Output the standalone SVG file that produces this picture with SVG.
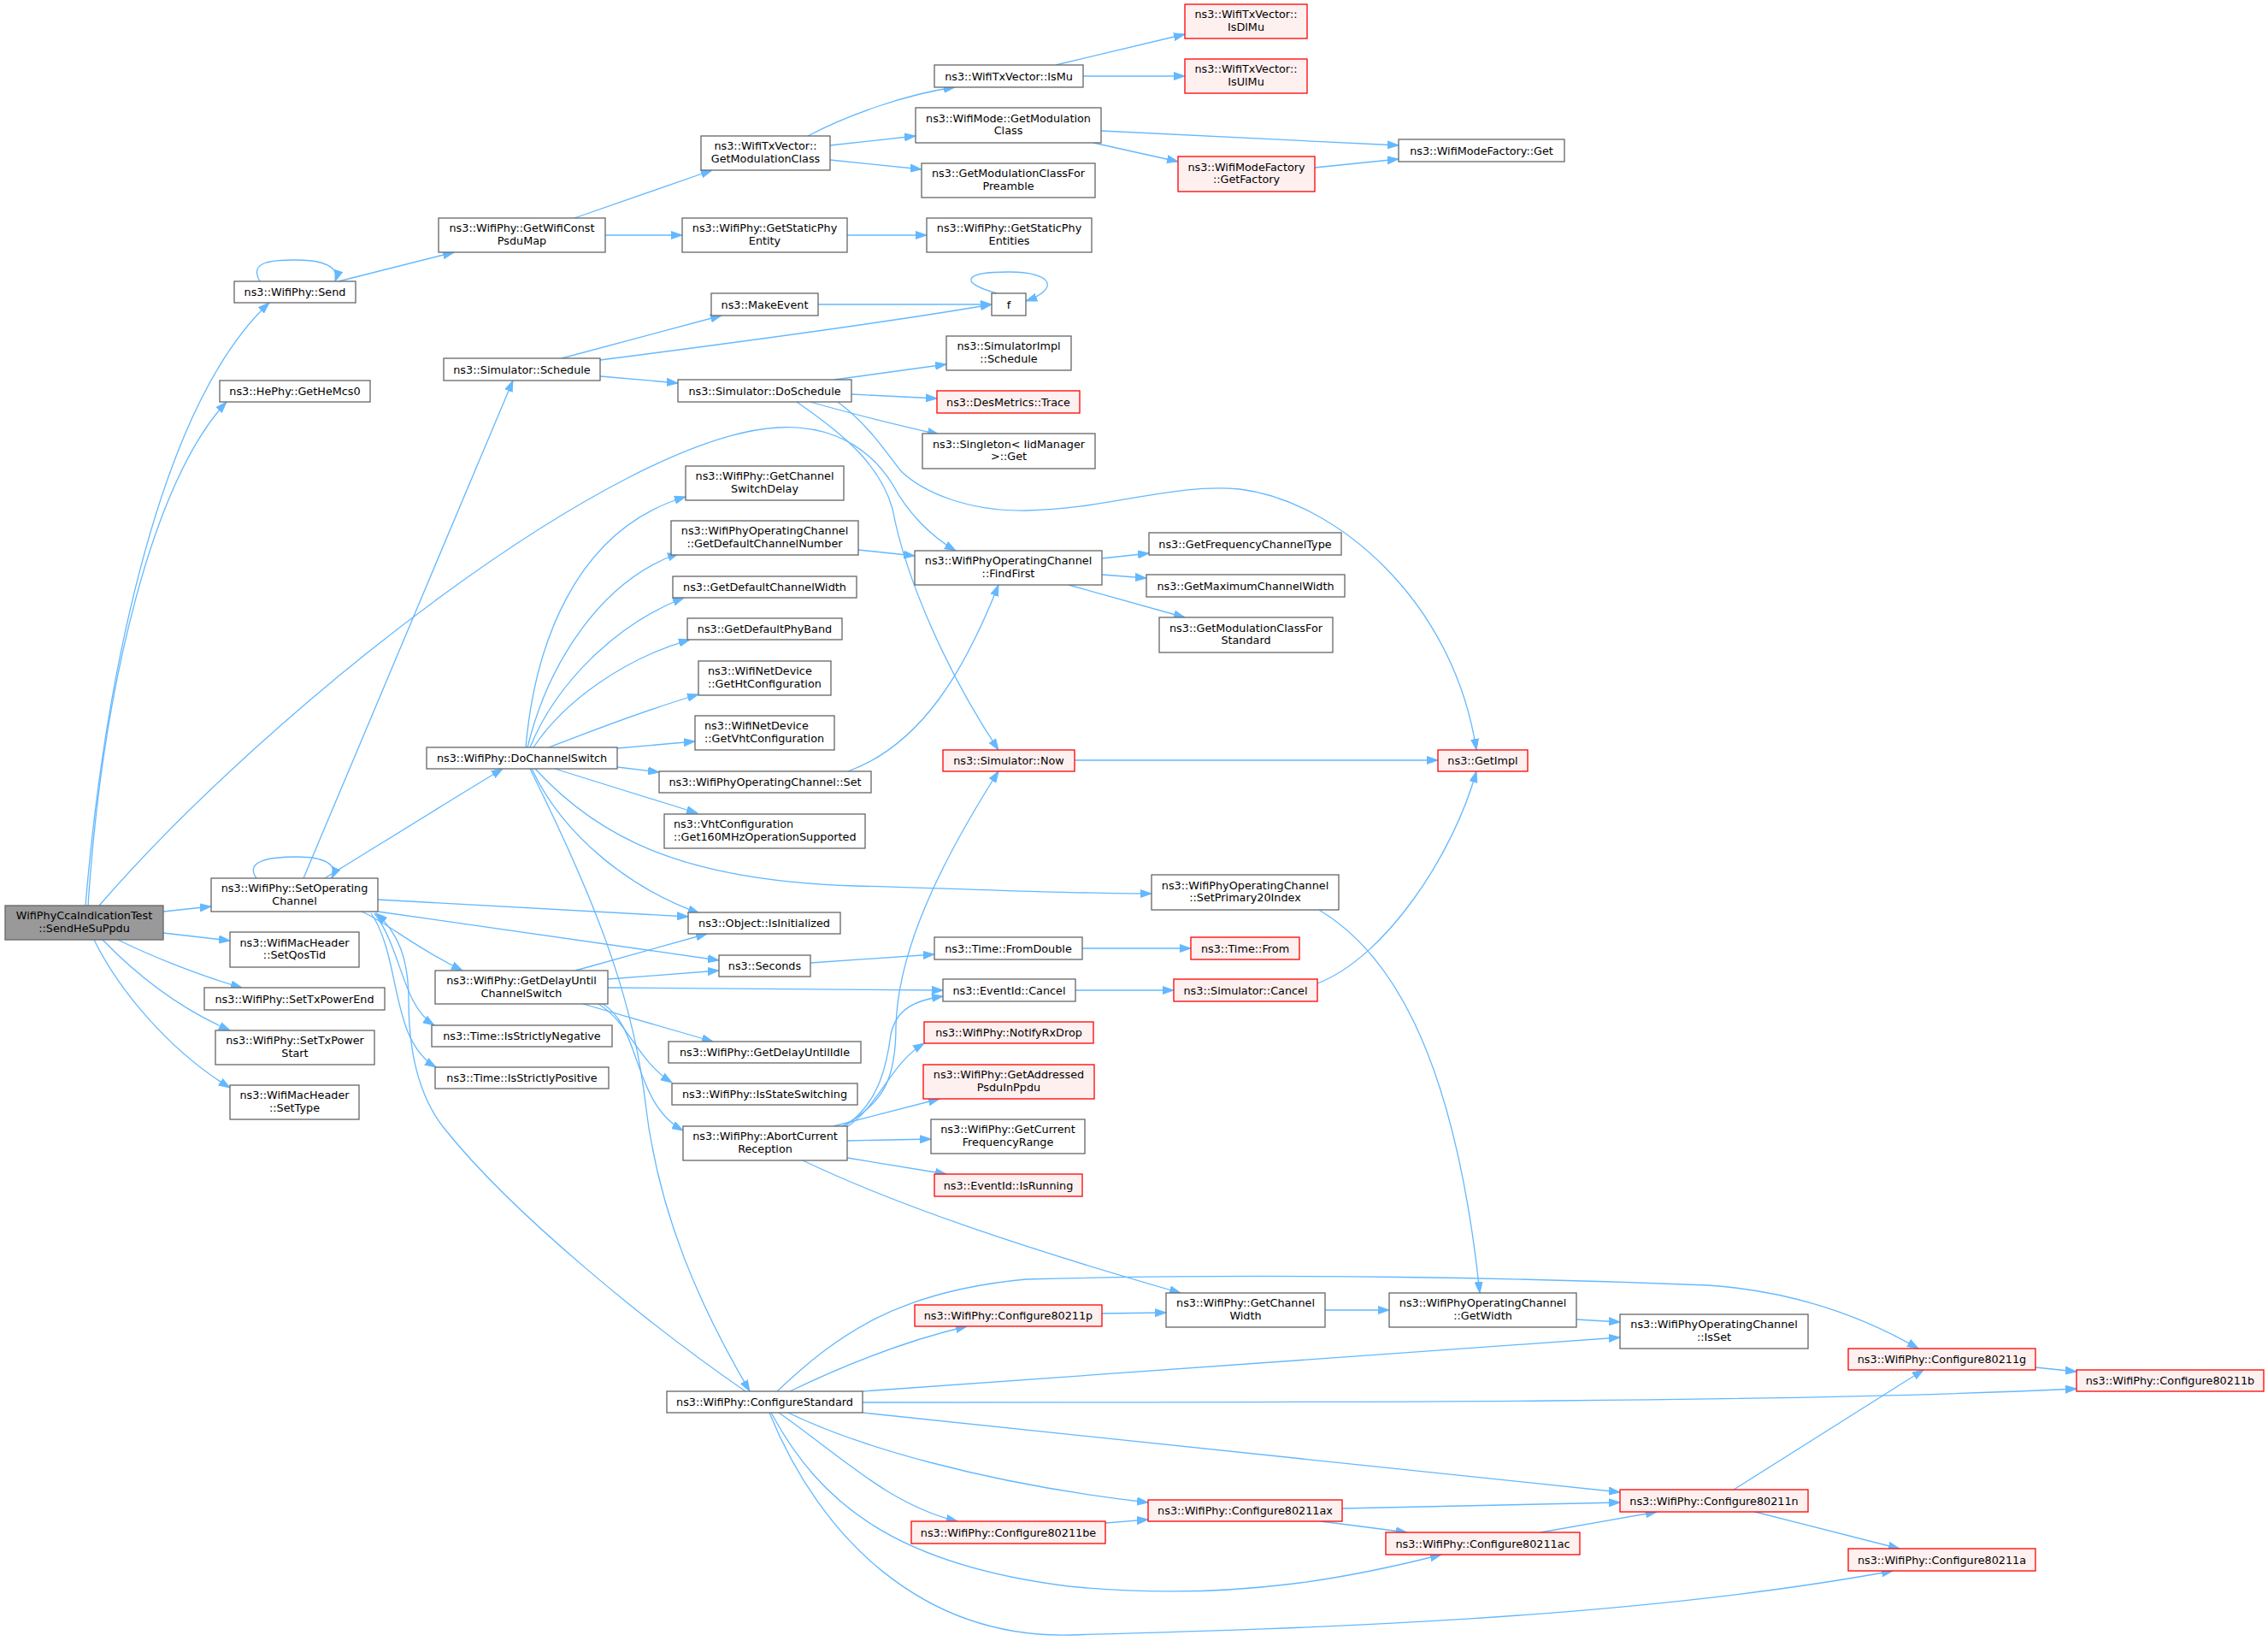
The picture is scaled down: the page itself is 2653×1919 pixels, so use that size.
<svg xmlns="http://www.w3.org/2000/svg" width="2653" height="1919" viewBox="0 0 2653 1919">
<style>
rect{fill:#ffffff;stroke:#666666;stroke-width:1.3}
.r rect{fill:#fff0f0;stroke:#ff0000}
.g rect{fill:#999999;stroke:#666666}
text{font-family:"DejaVu Sans","Liberation Sans",sans-serif;font-size:12.8px;text-anchor:middle;fill:#000000}
text.l{text-anchor:start}
#edges path{fill:none;stroke:#63b8ff;stroke-width:1.3;marker-end:url(#a)}
</style>
<defs>
<marker id="a" markerUnits="userSpaceOnUse" markerWidth="14" markerHeight="10" refX="13" refY="5" orient="auto"><path d="M0,0.5 L13,5 L0,9.5 z" fill="#63b8ff" stroke="#63b8ff" stroke-width="1"/></marker>
</defs>
<rect x="0" y="0" width="2653" height="1919" style="fill:#ffffff;stroke:none"/>
<g id="edges">
<path d="M100,1059 C 120,820 180,480 315,354"/>
<path d="M103,1059 C 120,800 180,560 265,470"/>
<path d="M116,1059 C 315,829 720,510 910,500 C 985,496 1025,535 1045,568 C 1062,600 1090,628 1118,644"/>
<path d="M191,1066 L247,1060"/>
<path d="M191,1091 L269,1100"/>
<path d="M138,1099 C 170,1115 230,1140 283,1155"/>
<path d="M120,1099 C 150,1130 200,1175 269,1205"/>
<path d="M110,1099 C 140,1160 200,1230 269,1272"/>
<path d="M304,329 C 290,305 320,304 347,304 C 378,304 398,312 392,329"/>
<path d="M396,329 L531,295"/>
<path d="M672,255 L833,199"/>
<path d="M708,275 L798,275"/>
<path d="M945,159 C 990,135 1060,110 1117,102"/>
<path d="M971,170 L1071,159"/>
<path d="M971,187 L1078,198"/>
<path d="M991,275 L1084,275"/>
<path d="M1235,76 L1386,40"/>
<path d="M1267,89 L1386,89"/>
<path d="M1288,153 L1636,170"/>
<path d="M1279,167 L1378,189"/>
<path d="M1538,196 L1636,186"/>
<path d="M657,419 L844,369"/>
<path d="M702,421 C 850,402 1050,375 1160,356"/>
<path d="M702,440 L793,448"/>
<path d="M957,356 L1160,356"/>
<path d="M1166,343 C 1120,330 1128,318 1180,318 C 1232,318 1240,338 1200,352"/>
<path d="M976,444 L1107,426"/>
<path d="M996,461 L1096,466"/>
<path d="M948,470 C 1000,485 1050,497 1098,508"/>
<path d="M932,470 C 990,510 1030,545 1044,595 C 1060,680 1110,790 1168,877"/>
<path d="M980,470 C 1020,500 1040,535 1055,552 C 1080,575 1130,598 1200,597 C 1300,595 1370,565 1450,572 C 1560,585 1700,700 1727,877"/>
<path d="M300,1027 C 285,1006 318,1002 347,1002 C 378,1002 396,1010 388,1027"/>
<path d="M355,1027 L600,445"/>
<path d="M380,1027 C 440,990 520,940 588,899"/>
<path d="M442,1052 L805,1072"/>
<path d="M442,1066 L841,1123"/>
<path d="M423,1066 C 455,1080 480,1105 541,1135"/>
<path d="M438,1068 C 470,1110 470,1175 508,1199"/>
<path d="M434,1068 C 470,1120 455,1215 510,1248"/>
<path d="M872,1627 C 760,1550 600,1420 520,1320 C 480,1270 478,1200 478,1170 C 478,1120 465,1090 440,1068"/>
<path d="M615,874 C 625,760 670,620 802,581"/>
<path d="M617,874 C 640,780 700,680 794,647"/>
<path d="M620,874 C 650,800 720,730 800,699"/>
<path d="M624,874 C 660,820 730,770 807,748"/>
<path d="M642,874 C 680,860 740,835 817,812"/>
<path d="M722,875 L813,867"/>
<path d="M722,897 L771,903"/>
<path d="M649,899 L816,951"/>
<path d="M626,899 C 700,980 800,1030 1000,1036 C 1150,1040 1250,1045 1347,1045"/>
<path d="M622,899 C 660,980 740,1040 818,1068"/>
<path d="M620,899 C 690,1040 740,1160 755,1290 C 770,1420 820,1530 877,1627"/>
<path d="M673,1135 L827,1092"/>
<path d="M711,1145 L841,1135"/>
<path d="M711,1155 L1103,1158"/>
<path d="M682,1174 L834,1218"/>
<path d="M700,1174 C 735,1195 745,1240 786,1266"/>
<path d="M705,1174 C 750,1200 740,1290 799,1322"/>
<path d="M1004,643 L1070,650"/>
<path d="M992,902 C 1080,870 1130,780 1168,684"/>
<path d="M1289,653 L1344,647"/>
<path d="M1289,672 L1341,676"/>
<path d="M1250,684 L1386,722"/>
<path d="M1257,889 L1682,889"/>
<path d="M1541,1150 C 1620,1120 1700,1000 1727,902"/>
<path d="M1266,1109 L1393,1109"/>
<path d="M1258,1158 L1373,1158"/>
<path d="M948,1126 L1093,1116"/>
<path d="M1543,1064 C 1620,1110 1700,1220 1731,1512"/>
<path d="M975,1317 L1099,1285"/>
<path d="M991,1334 L1089,1332"/>
<path d="M991,1354 L1107,1373"/>
<path d="M939,1357 C 1050,1410 1200,1460 1381,1512"/>
<path d="M985,1317 C 1035,1290 1048,1260 1048,1200 C 1050,1130 1080,1040 1168,902"/>
<path d="M987,1318 C 1030,1290 1038,1240 1042,1210 C 1048,1180 1070,1170 1103,1165"/>
<path d="M989,1319 C 1030,1292 1040,1245 1081,1220"/>
<path d="M1550,1532 L1625,1532"/>
<path d="M1844,1543 L1895,1546"/>
<path d="M1289,1536 L1364,1535"/>
<path d="M924,1627 C 980,1600 1050,1570 1131,1551"/>
<path d="M909,1627 C 980,1560 1050,1510 1200,1496 C 1500,1488 1800,1495 1998,1503 C 2100,1510 2180,1540 2244,1577"/>
<path d="M1009,1627 L1895,1564"/>
<path d="M1009,1640 C 1600,1640 2100,1640 2429,1624"/>
<path d="M1009,1652 L1895,1745"/>
<path d="M922,1652 C 1000,1690 1150,1735 1343,1757"/>
<path d="M911,1652 C 980,1700 1040,1760 1120,1779"/>
<path d="M902,1652 C 960,1760 1050,1830 1250,1855 C 1450,1875 1600,1840 1686,1818"/>
<path d="M900,1652 C 960,1800 1080,1915 1250,1912 C 1500,1905 1900,1895 2214,1837"/>
<path d="M1293,1781 L1343,1777"/>
<path d="M1570,1764 L1895,1757"/>
<path d="M1545,1779 L1646,1792"/>
<path d="M1802,1792 L1938,1768"/>
<path d="M2028,1742 L2250,1602"/>
<path d="M2053,1768 L2222,1811"/>
<path d="M2381,1599 L2429,1604"/>
</g>
<g id="n1" class="g"><rect x="6" y="1059" width="185" height="40"/><text x="98.5" y="1075">WifiPhyCcaIndicationTest</text><text x="98.5" y="1089.5">::SendHeSuPpdu</text></g>
<g id="n2"><rect x="274" y="329" width="142" height="25"/><text x="345" y="346">ns3::WifiPhy::Send</text></g>
<g id="n3"><rect x="257" y="445" width="176" height="25"/><text x="345" y="462">ns3::HePhy::GetHeMcs0</text></g>
<g id="n4"><rect x="513" y="255" width="195" height="40"/><text x="610.5" y="271">ns3::WifiPhy::GetWifiConst</text><text x="610.5" y="285.5">PsduMap</text></g>
<g id="n5"><rect x="519" y="419" width="183" height="26"/><text x="610.5" y="436.5">ns3::Simulator::Schedule</text></g>
<g id="n6"><rect x="820" y="159" width="151" height="40"/><text x="895.5" y="175">ns3::WifiTxVector::</text><text x="895.5" y="189.5">GetModulationClass</text></g>
<g id="n7"><rect x="798" y="255" width="193" height="40"/><text x="894.5" y="271">ns3::WifiPhy::GetStaticPhy</text><text x="894.5" y="285.5">Entity</text></g>
<g id="n8"><rect x="832" y="343" width="125" height="26"/><text x="894.5" y="360.5">ns3::MakeEvent</text></g>
<g id="n9"><rect x="793" y="444" width="203" height="26"/><text x="894.5" y="461.5">ns3::Simulator::DoSchedule</text></g>
<g id="n10"><rect x="802" y="545" width="185" height="40"/><text x="894.5" y="561">ns3::WifiPhy::GetChannel</text><text x="894.5" y="575.5">SwitchDelay</text></g>
<g id="n11"><rect x="785" y="609" width="219" height="40"/><text x="894.5" y="625">ns3::WifiPhyOperatingChannel</text><text x="894.5" y="639.5">::GetDefaultChannelNumber</text></g>
<g id="n12"><rect x="1093" y="76" width="174" height="26"/><text x="1180" y="93.5">ns3::WifiTxVector::IsMu</text></g>
<g id="n13" class="r"><rect x="1386" y="5" width="143" height="40"/><text x="1457.5" y="21">ns3::WifiTxVector::</text><text x="1457.5" y="35.5">IsDlMu</text></g>
<g id="n14" class="r"><rect x="1386" y="69" width="143" height="40"/><text x="1457.5" y="85">ns3::WifiTxVector::</text><text x="1457.5" y="99.5">IsUlMu</text></g>
<g id="n15"><rect x="1071" y="126" width="217" height="41"/><text x="1179.5" y="142.5">ns3::WifiMode::GetModulation</text><text x="1179.5" y="157">Class</text></g>
<g id="n16"><rect x="1078" y="191" width="203" height="40"/><text x="1179.5" y="207">ns3::GetModulationClassFor</text><text x="1179.5" y="221.5">Preamble</text></g>
<g id="n17"><rect x="1084" y="255" width="193" height="40"/><text x="1180.5" y="271">ns3::WifiPhy::GetStaticPhy</text><text x="1180.5" y="285.5">Entities</text></g>
<g id="n18"><rect x="1160" y="343" width="40" height="26"/><text x="1180" y="360.5">f</text></g>
<g id="n19"><rect x="1107" y="393" width="146" height="40"/><text x="1180" y="409">ns3::SimulatorImpl</text><text x="1180" y="423.5">::Schedule</text></g>
<g id="n20" class="r"><rect x="1096" y="457" width="167" height="26"/><text x="1179.5" y="474.5">ns3::DesMetrics::Trace</text></g>
<g id="n21"><rect x="1079" y="507" width="202" height="41"/><text x="1180" y="523.5">ns3::Singleton&lt; IidManager</text><text x="1180" y="538">&gt;::Get</text></g>
<g id="n22" class="r"><rect x="1378" y="183" width="160" height="41"/><text x="1458" y="199.5">ns3::WifiModeFactory</text><text x="1458" y="214">::GetFactory</text></g>
<g id="n23"><rect x="1636" y="163" width="194" height="26"/><text x="1733" y="180.5">ns3::WifiModeFactory::Get</text></g>
<g id="n24"><rect x="1344" y="623" width="225" height="26"/><text x="1456.5" y="640.5">ns3::GetFrequencyChannelType</text></g>
<g id="n25"><rect x="1070" y="644" width="219" height="40"/><text x="1179.5" y="660">ns3::WifiPhyOperatingChannel</text><text x="1179.5" y="674.5">::FindFirst</text></g>
<g id="n26"><rect x="1341" y="672" width="232" height="26"/><text x="1457" y="689.5">ns3::GetMaximumChannelWidth</text></g>
<g id="n27"><rect x="1356" y="722" width="203" height="41"/><text x="1457.5" y="738.5">ns3::GetModulationClassFor</text><text x="1457.5" y="753">Standard</text></g>
<g id="n28"><rect x="787" y="674" width="215" height="25"/><text x="894.5" y="691">ns3::GetDefaultChannelWidth</text></g>
<g id="n29"><rect x="804" y="723" width="181" height="25"/><text x="894.5" y="740">ns3::GetDefaultPhyBand</text></g>
<g id="n30"><rect x="817" y="773" width="155" height="40"/><text class="l" x="828" y="789">ns3::WifiNetDevice</text><text class="l" x="828" y="803.5">::GetHtConfiguration</text></g>
<g id="n31"><rect x="813" y="837" width="163" height="40"/><text class="l" x="824" y="853">ns3::WifiNetDevice</text><text class="l" x="824" y="867.5">::GetVhtConfiguration</text></g>
<g id="n32"><rect x="499" y="874" width="223" height="25"/><text x="610.5" y="891">ns3::WifiPhy::DoChannelSwitch</text></g>
<g id="n33"><rect x="771" y="902" width="248" height="25"/><text x="895" y="919">ns3::WifiPhyOperatingChannel::Set</text></g>
<g id="n34"><rect x="777" y="952" width="235" height="40"/><text class="l" x="788" y="968">ns3::VhtConfiguration</text><text class="l" x="788" y="982.5">::Get160MHzOperationSupported</text></g>
<g id="n35"><rect x="805" y="1067" width="178" height="25"/><text x="894" y="1084">ns3::Object::IsInitialized</text></g>
<g id="n36"><rect x="841" y="1117" width="107" height="25"/><text x="894.5" y="1134">ns3::Seconds</text></g>
<g id="n37"><rect x="782" y="1218" width="225" height="25"/><text x="894.5" y="1235">ns3::WifiPhy::GetDelayUntilIdle</text></g>
<g id="n38"><rect x="509" y="1135" width="202" height="39"/><text x="610" y="1151">ns3::WifiPhy::GetDelayUntil</text><text x="610" y="1165.5">ChannelSwitch</text></g>
<g id="n39"><rect x="247" y="1027" width="195" height="39"/><text x="344.5" y="1043">ns3::WifiPhy::SetOperating</text><text x="344.5" y="1057.5">Channel</text></g>
<g id="n40"><rect x="269" y="1090" width="151" height="41"/><text x="344.5" y="1106.5">ns3::WifiMacHeader</text><text x="344.5" y="1121">::SetQosTid</text></g>
<g id="n41"><rect x="239" y="1155" width="211" height="26"/><text x="344.5" y="1172.5">ns3::WifiPhy::SetTxPowerEnd</text></g>
<g id="n42"><rect x="252" y="1205" width="186" height="40"/><text x="345" y="1221">ns3::WifiPhy::SetTxPower</text><text x="345" y="1235.5">Start</text></g>
<g id="n43"><rect x="269" y="1269" width="151" height="40"/><text x="344.5" y="1285">ns3::WifiMacHeader</text><text x="344.5" y="1299.5">::SetType</text></g>
<g id="n44"><rect x="505" y="1199" width="211" height="25"/><text x="610.5" y="1216">ns3::Time::IsStrictlyNegative</text></g>
<g id="n45"><rect x="509" y="1248" width="203" height="25"/><text x="610.5" y="1265">ns3::Time::IsStrictlyPositive</text></g>
<g id="n46" class="r"><rect x="1103" y="877" width="154" height="25"/><text x="1180" y="894">ns3::Simulator::Now</text></g>
<g id="n47" class="r"><rect x="1682" y="877" width="105" height="25"/><text x="1734.5" y="894">ns3::GetImpl</text></g>
<g id="n48"><rect x="1347" y="1023" width="219" height="41"/><text x="1456.5" y="1039.5">ns3::WifiPhyOperatingChannel</text><text x="1456.5" y="1054">::SetPrimary20Index</text></g>
<g id="n49"><rect x="1093" y="1096" width="173" height="26"/><text x="1179.5" y="1113.5">ns3::Time::FromDouble</text></g>
<g id="n50" class="r"><rect x="1393" y="1096" width="127" height="26"/><text x="1456.5" y="1113.5">ns3::Time::From</text></g>
<g id="n51"><rect x="1103" y="1145" width="155" height="26"/><text x="1180.5" y="1162.5">ns3::EventId::Cancel</text></g>
<g id="n52" class="r"><rect x="1373" y="1145" width="168" height="26"/><text x="1457" y="1162.5">ns3::Simulator::Cancel</text></g>
<g id="n53" class="r"><rect x="1081" y="1195" width="198" height="25"/><text x="1180" y="1212">ns3::WifiPhy::NotifyRxDrop</text></g>
<g id="n54" class="r"><rect x="1080" y="1245" width="200" height="40"/><text x="1180" y="1261">ns3::WifiPhy::GetAddressed</text><text x="1180" y="1275.5">PsduInPpdu</text></g>
<g id="n55"><rect x="1089" y="1309" width="180" height="40"/><text x="1179" y="1325">ns3::WifiPhy::GetCurrent</text><text x="1179" y="1339.5">FrequencyRange</text></g>
<g id="n56" class="r"><rect x="1093" y="1373" width="173" height="26"/><text x="1179.5" y="1390.5">ns3::EventId::IsRunning</text></g>
<g id="n57"><rect x="786" y="1267" width="217" height="25"/><text x="894.5" y="1284">ns3::WifiPhy::IsStateSwitching</text></g>
<g id="n58"><rect x="799" y="1317" width="192" height="40"/><text x="895" y="1333">ns3::WifiPhy::AbortCurrent</text><text x="895" y="1347.5">Reception</text></g>
<g id="n59" class="r"><rect x="1070" y="1526" width="219" height="25"/><text x="1179.5" y="1543">ns3::WifiPhy::Configure80211p</text></g>
<g id="n60"><rect x="780" y="1627" width="229" height="25"/><text x="894.5" y="1644">ns3::WifiPhy::ConfigureStandard</text></g>
<g id="n61" class="r"><rect x="1066" y="1779" width="227" height="26"/><text x="1179.5" y="1796.5">ns3::WifiPhy::Configure80211be</text></g>
<g id="n62"><rect x="1364" y="1512" width="186" height="40"/><text x="1457" y="1528">ns3::WifiPhy::GetChannel</text><text x="1457" y="1542.5">Width</text></g>
<g id="n63"><rect x="1625" y="1512" width="219" height="40"/><text x="1734.5" y="1528">ns3::WifiPhyOperatingChannel</text><text x="1734.5" y="1542.5">::GetWidth</text></g>
<g id="n64"><rect x="1895" y="1537" width="220" height="40"/><text x="2005" y="1553">ns3::WifiPhyOperatingChannel</text><text x="2005" y="1567.5">::IsSet</text></g>
<g id="n65" class="r"><rect x="1895" y="1742" width="220" height="26"/><text x="2005" y="1759.5">ns3::WifiPhy::Configure80211n</text></g>
<g id="n66" class="r"><rect x="1343" y="1754" width="227" height="25"/><text x="1456.5" y="1771">ns3::WifiPhy::Configure80211ax</text></g>
<g id="n67" class="r"><rect x="1621" y="1792" width="227" height="26"/><text x="1734.5" y="1809.5">ns3::WifiPhy::Configure80211ac</text></g>
<g id="n68" class="r"><rect x="2162" y="1577" width="219" height="25"/><text x="2271.5" y="1594">ns3::WifiPhy::Configure80211g</text></g>
<g id="n69" class="r"><rect x="2429" y="1602" width="219" height="25"/><text x="2538.5" y="1619">ns3::WifiPhy::Configure80211b</text></g>
<g id="n70" class="r"><rect x="2162" y="1811" width="219" height="26"/><text x="2271.5" y="1828.5">ns3::WifiPhy::Configure80211a</text></g>
</svg>
